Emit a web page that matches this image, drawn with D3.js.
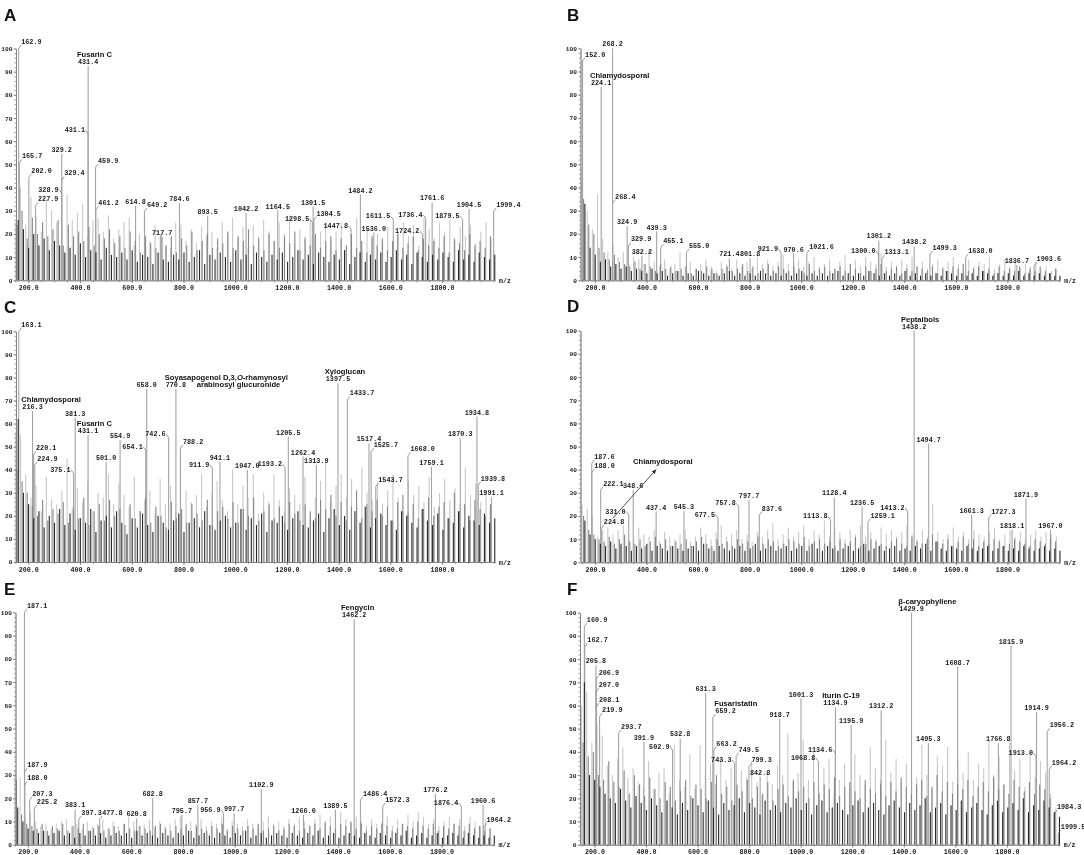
<!DOCTYPE html>
<html><head><meta charset="utf-8">
<script src="https://cdn.jsdelivr.net/npm/d3@7/dist/d3.min.js"></script>
<style>body{margin:0;background:#fff} svg{filter:grayscale(1)}</style>
</head><body>
<svg id="c" width="1084" height="855"></svg>
<script>
// ---------- axis categories ----------
const xTickValues = [200, 400, 600, 800, 1000, 1200, 1400, 1600, 1800];
const yTickValues = [0, 10, 20, 30, 40, 50, 60, 70, 80, 90, 100];
// m/z sampling positions of the three overlaid background scans
const bgMzLight = d3.range(150, 2000, 20);
const bgMzMid = d3.range(156, 2000, 19.9);
const bgMzDark = d3.range(161, 2004, 20.03);

// ---------- labelled peaks: [m/z, relative intensity, side of label] ----------
const peaksA = [[162.9,100,'r'],[165.7,50.7,'r'],[202.0,44.4,'r'],[227.9,32.1,'r'],[328.9,37.6,'l'],[329.2,54.6,'c'],[329.4,43.3,'r'],[431.1,63.2,'l'],[431.4,92.6,'c'],[459.9,48.7,'r'],[461.2,30.4,'r'],[614.8,32.1,'c'],[649.2,29.7,'r'],[717.7,18.7,'c'],[784.6,33.4,'c'],[893.5,27.8,'c'],[1042.2,29,'c'],[1164.5,30.1,'c'],[1298.5,24.9,'l'],[1301.5,31.8,'c'],[1304.5,26,'r'],[1447.8,22.1,'l'],[1484.2,36.9,'c'],[1536.0,20.6,'c'],[1611.5,26.1,'l'],[1724.2,19.7,'l'],[1736.4,26.8,'l'],[1761.6,33.6,'c'],[1879.5,26.1,'l'],[1904.5,30.7,'c'],[1999.4,29.7,'r']];
const peaksB = [[152.0,94.5,'r'],[224.1,83.3,'c'],[268.2,100,'c'],[268.4,33.2,'r'],[324.9,23.4,'c'],[329.9,14.8,'r'],[382.2,10.5,'c'],[439.3,21,'c'],[455.1,14,'r'],[555.0,12,'r'],[721.4,9.5,'c'],[801.8,9.5,'c'],[921.9,12,'l'],[970.6,11.5,'c'],[1021.6,11.6,'r'],[1300.0,11.2,'l'],[1301.2,17.2,'c'],[1313.1,9.2,'r'],[1438.2,14.6,'c'],[1499.3,11.2,'r'],[1638.0,9.8,'r'],[1836.7,6.6,'c'],[1903.6,6.2,'r']];
const peaksC = [[163.1,100,'r'],[216.3,65.5,'c'],[220.1,46.4,'r'],[224.9,42,'r'],[375.1,38.4,'l'],[381.3,62.6,'c'],[431.1,55,'c'],[501.0,43.5,'c'],[554.9,52.9,'c'],[654.1,48.5,'l'],[658.0,75,'c'],[742.6,53.9,'l'],[770.8,75,'c'],[788.2,49.3,'r'],[911.9,40.6,'l'],[941.1,43.5,'c'],[1047.0,39.9,'c'],[1193.2,40.9,'l'],[1205.5,54.3,'c'],[1262.4,45.7,'c'],[1313.9,42,'c'],[1397.5,77.5,'c'],[1433.7,70.3,'r'],[1517.4,51.4,'c'],[1525.7,47.8,'r'],[1543.7,32.6,'r'],[1668.0,46,'r'],[1759.1,41.3,'c'],[1870.3,53.6,'c'],[1934.8,63,'c'],[1939.8,33.3,'r'],[1991.1,28,'c']];
const peaksD = [[187.6,42.7,'r'],[188.0,38.7,'r'],[222.1,31.2,'r'],[224.8,14.7,'r'],[331.0,20.4,'l'],[348.6,31.2,'c'],[437.4,21.9,'c'],[545.3,22.2,'c'],[677.5,19,'l'],[757.8,24,'l'],[797.7,26.9,'c'],[837.6,20.4,'r'],[1113.8,18.3,'l'],[1128.4,28,'c'],[1236.5,24,'c'],[1259.1,17.3,'r'],[1413.2,21.9,'l'],[1438.2,100,'c'],[1494.7,51.2,'c'],[1661.3,20.4,'c'],[1727.3,19,'r'],[1818.1,14,'c'],[1871.9,27.3,'c'],[1967.0,14,'c']];
const peaksE = [[187.1,100,'r'],[187.9,31.4,'r'],[188.0,25.7,'r'],[207.3,19.2,'r'],[225.2,15.6,'r'],[383.1,15.2,'c'],[397.3,10.9,'r'],[477.8,10.9,'r'],[620.8,11.3,'c'],[682.8,20,'c'],[795.7,12.8,'c'],[857.7,17,'c'],[956.9,13.5,'l'],[997.7,13.5,'c'],[1102.9,24,'c'],[1266.0,12.8,'c'],[1389.5,15,'c'],[1462.2,97,'c'],[1486.4,19.2,'r'],[1572.3,16.4,'r'],[1776.2,21.8,'c'],[1876.4,16.4,'l'],[1960.6,17,'c'],[1964.2,7.7,'r']];
const peaksF = [[160.9,94,'r'],[162.7,85.3,'r'],[205.8,77.4,'c'],[206.9,71.4,'r'],[207.0,66,'r'],[208.1,59.5,'r'],[219.9,55.2,'r'],[293.7,48,'r'],[391.9,44.4,'c'],[502.9,40.8,'l'],[532.8,45.8,'c'],[631.3,65.5,'c'],[659.2,54.7,'r'],[663.2,40.8,'r'],[743.3,35,'l'],[749.5,38,'r'],[799.3,33.6,'r'],[842.8,29.3,'c'],[918.7,54.2,'c'],[1001.3,63,'c'],[1068.8,35.8,'l'],[1134.6,39.4,'l'],[1134.9,59.2,'c'],[1195.9,51.6,'c'],[1312.2,58,'c'],[1429.9,100,'c'],[1495.3,43.7,'c'],[1608.7,76.7,'c'],[1766.8,43.7,'c'],[1815.9,85.8,'c'],[1913.0,38,'l'],[1914.9,57.3,'c'],[1956.2,48.7,'r'],[1964.2,32.5,'r'],[1984.3,13.5,'r'],[1999.5,4.9,'r']];

// ---------- compound names: [m/z of peak, name, optional 2nd line] ----------
const namesA = [[431.4,'Fusarin C']];
const namesB = [[224.1,'Chlamydosporal']];
const namesC = [[216.3,'Chlamydosporal'],[431.1,'Fusarin C'],[770.8,'Soyasapogenol D,3,O-rhamynosyl','arabinosyl glucuronide'],[1397.5,'Xyloglucan']];
const namesD = [[1438.2,'Peptaibols']];
const namesE = [[1462.2,'Fengycin']];
const namesF = [[659.2,'Fusaristatin'],[1134.9,'Iturin C-19'],[1429.9,'β-caryophyllene']];
// arrow callout in D: [text, from m/z, from intensity, to m/z, to intensity]
const calloutD = ['Chlamydosporal', 269, 19, 437, 40];

// ---------- background scans (relative intensity) ----------
const bgLightA = [25,40,24,36,28,21,35,30,25,22, 37,26,29,33,19,26,27,21,28,18, 22,25,27,15,20,28,17,24,19,15, 14,25,24,17,22,16,23,19,21,14, 25,20,27,18,23,14,24,19,26,21, 17,25,20,28,16,22,19,26,18,21, 24,17,21,25,15,19,27,13,22,18, 20,17,23,16,21,25,19,24,15,27, 22,18,25,21,26,17,23,19,24,16, 21,25,18];
const bgMidA = [24,30,18,27,20,25,19,22,26,15, 24,19,21,17,23,15,20,18,22,16, 19,14,21,17,12,19,16,14,20,15, 19,12,18,15,21,13,17,20,14,18, 16,21,14,19,17,22,15,18,13,20, 17,14,19,16,21,13,18,15,20,14, 17,19,13,18,15,20,14,17,12,19, 15,18,13,17,20,14,16,19,13,18, 15,17,14,19,12,18,16,13,20,15, 17,14,19];
const bgDarkA = [26,22,14,20,15,18,13,17,15,12, 14,11,16,10,13,12,9,14,11,10, 12,9,13,8,11,10,7,12,9,8, 11,9,12,8,10,13,7,11,9,12, 10,8,13,9,11,7,12,10,8,11, 9,12,8,10,13,9,11,7,12,10, 8,11,9,13,7,10,12,8,11,9, 12,8,10,13,9,11,7,12,10,8, 11,9,12,10,8,13,9,11,8,12, 10,9,11];

const bgLightB = [48,30,22,37,18,12,16,10,12,8, 10,9,7,13,8,6,9,5,7,12, 6,8,5,7,9,6,4,8,7,5, 9,6,8,5,10,7,9,6,8,11, 7,5,9,6,8,10,6,7,9,5, 8,11,7,9,6,10,8,7,12,6, 8,5,9,7,10,6,8,5,7,9, 6,8,10,7,5,9,6,8,7,10, 5,7,9,6,8,5,7,6,8,5, 6,4,5];
const bgMidB = [35,24,20,14,12,9,11,8,7,6, 8,5,7,6,4,7,5,6,4,5, 6,3,5,4,6,5,3,5,6,4, 5,7,4,6,3,5,7,4,6,5, 4,6,5,3,7,4,5,6,4,5, 6,4,7,5,3,6,4,5,7,4, 5,6,3,5,4,6,5,4,6,3, 5,4,6,5,7,4,5,6,4,5, 3,6,4,5,4,6,3,5,4,6, 4,3,5];
const bgDarkB = [33,14,11,8,9,6,7,5,6,4, 5,4,3,5,3,4,2,3,4,2, 3,2,4,3,2,3,2,3,4,2, 3,2,3,2,4,3,2,3,2,3, 2,3,4,2,3,2,3,2,3,4, 2,3,2,3,2,4,3,2,3,2, 3,2,4,2,3,2,3,2,3,2, 4,3,2,3,2,3,2,4,3,2, 3,2,3,2,4,2,3,2,3,2, 3,2,2];

const bgLightC = [56,55,38,28,33,22,37,27,25,31, 45,24,32,26,35,22,30,28,38,25, 34,29,24,37,22,27,31,21,36,25, 33,22,20,31,26,29,38,24,30,35, 27,22,40,25,33,28,38,21,30,26, 38,27,22,32,29,25,37,20,28,35, 44,26,33,38,28,36,24,41,30,27, 34,25,31,38,28,22,35,29,33,26, 37,24,30,36,27,32,25,41,29,34, 26,31,24];
const bgMidC = [40,35,30,24,20,27,18,23,21,26, 17,23,19,28,16,22,25,18,27,20, 23,16,25,19,22,28,17,24,20,15, 26,19,23,17,25,21,18,27,16,22, 24,19,26,17,23,20,28,18,22,25, 19,24,17,26,21,18,25,22,19,27, 23,29,20,26,18,24,31,19,25,22, 27,20,24,18,26,29,21,25,19,23, 28,20,24,26,19,30,22,25,18,27, 23,20,25];
const bgDarkC = [62,30,25,19,22,15,20,17,23,16, 21,14,19,17,23,13,18,20,15,22, 17,12,19,15,21,16,13,20,17,14, 18,21,13,17,19,15,22,16,14,18, 20,15,17,23,14,19,16,21,13,18, 17,20,14,19,22,16,15,18,21,13, 19,23,16,20,14,22,17,24,15,19, 21,16,18,14,22,20,17,15,23,18, 16,21,14,19,17,22,15,20,18,16, 21,17,19];

const bgLightD = [25,23,20,11,14,15,12,14,16,13, 10,15,12,11,14,9,13,11,10,12, 14,9,11,15,12,10,13,16,11,12, 14,10,12,9,13,11,14,17,10,12, 15,11,13,16,10,14,12,18,11,15, 13,10,14,12,16,11,13,10,15,12, 14,11,13,16,12,10,14,11,25,13, 10,12,15,11,13,10,14,12,11,13, 15,10,12,14,11,13,10,12,14,11, 13,12,11];
const bgMidD = [20,14,12,10,9,11,8,10,12,9, 8,10,7,9,11,8,10,7,9,8, 10,7,9,11,8,7,10,8,9,7, 10,8,9,7,11,8,10,9,7,8, 10,9,8,11,7,9,10,8,9,7, 10,8,9,11,7,8,10,9,8,7, 9,10,8,7,11,9,8,10,12,9, 8,10,7,9,11,8,10,7,9,8, 10,9,7,8,10,9,8,7,10,9, 8,10,9];
const bgDarkD = [18,12,10,8,7,9,6,8,7,5, 7,6,8,5,7,6,5,7,6,5, 6,7,5,8,6,5,7,6,5,6, 7,5,6,8,5,6,7,5,6,7, 5,6,7,5,8,6,5,7,6,5, 6,7,5,6,8,5,6,7,5,6, 7,5,6,5,7,6,8,5,9,6, 5,7,6,5,7,6,5,6,7,5, 6,7,5,6,5,7,6,5,6,7, 5,6,5];

const bgLightE = [32,29,12,14,10,8,9,7,9,10, 11,8,9,7,10,8,9,11,7,10, 8,9,12,10,8,9,11,7,10,8, 9,11,12,8,10,9,11,8,10,9, 12,7,10,9,8,11,9,8,10,12, 9,10,8,11,9,12,10,8,11,13, 9,12,10,14,11,9,12,10,8,11, 9,10,12,8,11,9,13,10,14,12, 9,11,8,10,12,9,11,8,12,10, 8,11,7];
const bgMidE = [28,13,9,8,7,9,6,8,7,9, 6,8,7,9,6,7,8,6,7,8, 6,9,7,6,8,7,6,8,9,7, 6,8,7,9,6,8,7,6,8,7, 9,6,8,7,6,8,7,9,6,7, 8,6,7,9,8,6,7,8,9,7, 10,8,7,9,8,10,7,9,6,8, 7,9,8,6,7,9,8,7,10,8, 7,9,6,8,7,9,8,6,9,7, 8,6,7];
const bgDarkE = [16,10,7,6,5,6,4,5,6,4, 5,3,5,4,6,4,5,3,4,5, 4,5,3,6,4,5,4,3,5,4, 3,5,4,6,3,4,5,4,3,5, 4,3,5,4,6,3,4,5,3,4, 5,4,3,5,4,3,5,4,6,3, 4,5,3,4,5,4,3,5,4,3, 5,4,3,5,4,6,3,4,5,3, 4,5,3,4,5,4,3,5,4,3, 4,3,4];

const bgLightF = [60,66,44,52,47,34,30,37,42,29, 33,27,25,36,24,31,33,22,43,28, 25,39,24,43,30,35,26,37,28,33, 24,32,29,36,27,21,31,26,34,30, 48,27,31,45,28,40,25,33,37,22, 28,35,24,39,30,26,42,33,28,45, 31,37,27,35,40,29,43,30,24,38, 34,42,27,36,31,40,28,35,33,45, 30,38,26,44,32,37,25,40,29,36, 31,22,16];
const bgMidF = [44,38,40,30,28,36,27,25,32,22, 30,26,21,29,24,20,27,25,19,23, 28,21,26,24,20,27,30,22,25,19, 26,23,28,20,25,22,27,19,24,26, 21,28,23,25,20,27,22,26,24,29, 21,25,27,23,20,28,24,22,26,21, 27,23,29,25,22,26,28,21,25,30, 23,27,22,26,24,28,21,25,27,23, 29,24,26,22,28,25,23,27,22,26, 24,20,14];
const bgDarkF = [70,30,28,25,22,20,18,24,19,16, 21,18,15,20,17,14,19,16,13,18, 15,20,17,14,19,16,13,18,15,17, 20,14,18,16,13,19,15,17,14,18, 16,20,15,18,13,17,19,14,16,18, 15,13,17,19,14,16,18,15,13,17, 19,16,14,18,15,17,20,14,16,18, 13,17,15,19,14,16,18,15,13,17, 19,14,16,18,15,20,14,17,15,19, 16,14,12];

// ---------- layout (pixels) ----------
const layout = {
  A:{x0:16,   d0:152.4, k:0.2586, y0:280.3, y100:48.5,  lx:4,   ly:21},
  B:{x0:580.5,d0:144,   k:0.2578, y0:280.3, y100:48.3,  lx:567, ly:20.5},
  C:{x0:16,   d0:152.4, k:0.2586, y0:562,   y100:331.3, lx:4,   ly:313},
  D:{x0:580.5,d0:144,   k:0.2578, y0:562.3, y100:330.7, lx:567, ly:312},
  E:{x0:15.5, d0:152.4, k:0.2586, y0:844.7, y100:612.4, lx:4,   ly:595},
  F:{x0:580,  d0:144,   k:0.2578, y0:844.7, y100:612.7, lx:567, ly:595}
};
const panels = [
  {id:'A', peaks:peaksA, names:namesA, light:bgLightA, mid:bgMidA, dark:bgDarkA},
  {id:'B', peaks:peaksB, names:namesB, light:bgLightB, mid:bgMidB, dark:bgDarkB},
  {id:'C', peaks:peaksC, names:namesC, light:bgLightC, mid:bgMidC, dark:bgDarkC},
  {id:'D', peaks:peaksD, names:namesD, light:bgLightD, mid:bgMidD, dark:bgDarkD, callout:calloutD},
  {id:'E', peaks:peaksE, names:namesE, light:bgLightE, mid:bgMidE, dark:bgDarkE},
  {id:'F', peaks:peaksF, names:namesF, light:bgLightF, mid:bgMidF, dark:bgDarkF}
];

const MONO = "'Liberation Mono','DejaVu Sans Mono',monospace";
const SANS = "'Liberation Sans',Arial,sans-serif";
const END = 2005;
const svg = d3.select('#c');
svg.append('rect').attr('width', 1084).attr('height', 855).attr('fill', '#fff');
svg.append('defs').append('marker').attr('id','arr').attr('viewBox','0 0 10 10')
  .attr('refX',9).attr('refY',5).attr('markerWidth',6).attr('markerHeight',6).attr('orient','auto')
  .append('path').attr('d','M0,1 L10,5 L0,9 Z').attr('fill','#222');

panels.forEach(p => {
  const L = layout[p.id];
  const x = d3.scaleLinear().domain([L.d0, END]).range([L.x0, L.x0 + (END - L.d0) * L.k]);
  const y = d3.scaleLinear().domain([0, 100]).range([L.y0, L.y100]);
  const g = svg.append('g').attr('class', 'panel-' + p.id);

  const series = (mzs, vals, color, w) => g.append('g')
    .selectAll('line').data(vals.map((v, i) => [mzs[i], v]).filter(d => d[0] != null))
    .join('line')
    .attr('x1', d => x(d[0])).attr('x2', d => x(d[0]))
    .attr('y1', y(0)).attr('y2', d => y(d[1]))
    .attr('stroke', color).attr('stroke-width', w);

  series(bgMzLight, p.light, '#c8c8cc', 1.1);
  series(p.peaks.map(d => d[0]), p.peaks.map(d => d[1]), '#a4a4a9', 1.1);
  series(bgMzMid, p.mid, '#8a8491', 1.1);
  series(bgMzDark, p.dark, '#2d2533', 1.1);

  // axes
  const axCol = '#777';
  const xMinor = g.append('g').attr('transform', `translate(0,${y(0)})`)
    .call(d3.axisBottom(x).tickValues(d3.range(150, 2001, 50)).tickSize(2).tickSizeOuter(0).tickFormat(''));
  const xMajor = g.append('g').attr('transform', `translate(0,${y(0)})`)
    .call(d3.axisBottom(x).tickValues(xTickValues).tickSize(3).tickSizeOuter(0).tickPadding(2).tickFormat(d3.format('.1f')));
  const yMinor = g.append('g').attr('transform', `translate(${L.x0},0)`)
    .call(d3.axisLeft(y).tickValues(d3.range(0, 101, 2)).tickSize(1.5).tickSizeOuter(0).tickFormat(''));
  const yMajor = g.append('g').attr('transform', `translate(${L.x0},0)`)
    .call(d3.axisLeft(y).tickValues(yTickValues).tickSize(2.5).tickSizeOuter(0).tickPadding(1));
  [xMinor, xMajor, yMinor, yMajor].forEach(a => {
    a.selectAll('path,line').attr('stroke', axCol).attr('stroke-width', 0.7);
    a.selectAll('text').attr('font-family', MONO).attr('font-weight', 'bold').attr('fill', '#222');
  });
  xMajor.selectAll('text').attr('font-size', 6.7);
  yMajor.selectAll('text').attr('font-size', 6.2);

  g.append('text').attr('x', x(END) + 4).attr('y', y(0) + 2.5).text('m/z')
    .attr('font-family', MONO).attr('font-weight', 'bold').attr('font-size', 6.5).attr('fill', '#222');

  // panel letter
  g.append('text').attr('x', L.lx).attr('y', L.ly).text(p.id)
    .attr('font-family', SANS).attr('font-weight', 'bold').attr('font-size', 17).attr('fill', '#111');

  // peak labels
  const labelPos = {};
  p.peaks.forEach(([mz, v, side]) => {
    const bx = x(mz), top = y(v);
    let tx, ty, anchor;
    if (side === 'c') { tx = bx; ty = top - 2; anchor = 'middle'; }
    else if (side === 'r') {
      tx = bx + 2.5; ty = top - 4.5; anchor = 'start';
      g.append('line').attr('x1', bx).attr('y1', top).attr('x2', bx + 2.5).attr('y2', top - 3.5)
        .attr('stroke', '#555').attr('stroke-width', 0.6);
    } else {
      tx = bx - 3; ty = top - 1.5; anchor = 'end';
      g.append('line').attr('x1', bx - 2.5).attr('y1', top - 3.5).attr('x2', bx).attr('y2', top)
        .attr('stroke', '#555').attr('stroke-width', 0.6);
    }
    const t = g.append('text').attr('x', tx).attr('y', ty).attr('text-anchor', anchor)
      .attr('font-family', MONO).attr('font-weight', 'bold').attr('font-size', 6.8).attr('fill', '#1a1a1a')
      .text(mz.toFixed(1));
    const w = t.node().getComputedTextLength();
    labelPos[mz] = {start: anchor === 'middle' ? tx - w / 2 : anchor === 'end' ? tx - w : tx, base: ty};
  });

  // compound names
  p.names.forEach(([mz, name, line2]) => {
    const lp = labelPos[mz];
    const t = g.append('text').attr('x', lp.start - 1).attr('y', lp.base - 7)
      .attr('font-family', SANS).attr('font-weight', 'bold').attr('font-size', 7.6).attr('fill', '#111');
    const m = name.match(/^(.*,)(O)(-.*)$/);
    if (m) {
      t.append('tspan').text(m[1]);
      t.append('tspan').attr('font-style', 'italic').text(m[2]);
      t.append('tspan').text(m[3]);
    } else t.text(name);
    if (line2) {
      g.append('text').attr('x', lp.start + 31).attr('y', lp.base)
        .attr('font-family', SANS).attr('font-weight', 'bold').attr('font-size', 7.6).attr('fill', '#111')
        .text(line2);
    }
  });

  // arrow callout
  if (p.callout) {
    const [txt, m0, v0, m1, v1] = p.callout;
    g.append('line').attr('x1', x(m0)).attr('y1', y(v0)).attr('x2', x(m1)).attr('y2', y(v1))
      .attr('stroke', '#222').attr('stroke-width', 0.8).attr('marker-end', 'url(#arr)');
    g.append('text').attr('x', x(m1) - 23).attr('y', y(v1) - 6).text(txt)
      .attr('font-family', SANS).attr('font-weight', 'bold').attr('font-size', 7.6).attr('fill', '#111');
  }
});
</script>
</body></html>
